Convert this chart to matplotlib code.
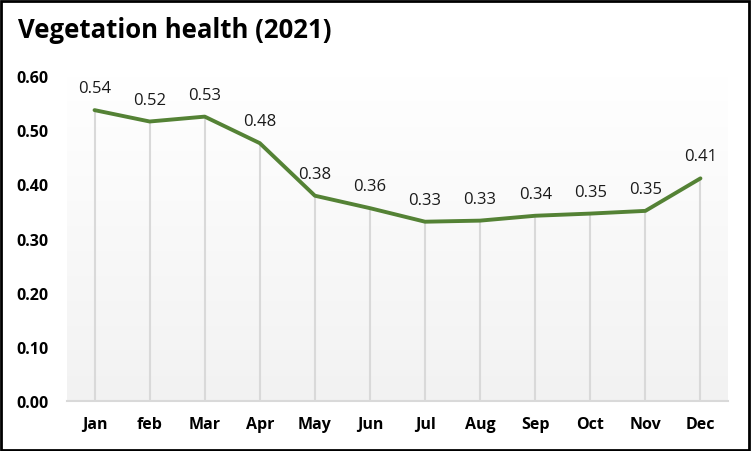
import matplotlib
matplotlib.use("Agg")
import matplotlib.pyplot as plt
import numpy as np
from matplotlib.colors import LinearSegmentedColormap

months = ["Jan", "feb", "Mar", "Apr", "May", "Jun", "Jul", "Aug", "Sep", "Oct", "Nov", "Dec"]
values = [0.537, 0.516, 0.525, 0.476, 0.379, 0.356, 0.331, 0.333, 0.342, 0.346, 0.351, 0.411]
yticks = [0.0, 0.1, 0.2, 0.3, 0.4, 0.5, 0.6]
title = "Vegetation health (2021)"

plt.rcParams['font.family'] = ['Open Sans', 'DejaVu Sans']

W, H = 751, 452
fig = plt.figure(figsize=(W / 100, H / 100), dpi=100)
fig.patch.set_facecolor("white")

# border
fig.add_artist(plt.Rectangle((1 / W, 1 / H), 1 - 3 / W, 1 - 3 / H, transform=fig.transFigure,
                             fill=False, edgecolor="black", linewidth=2))

ax = fig.add_axes([67 / W, (H - 402) / H, 661 / W, (402 - 77) / H])
x = np.arange(len(months))

# gradient background
grad = np.linspace(1.0, 0.0, 256).reshape(-1, 1)
cmap = LinearSegmentedColormap.from_list("g", ["#f2f2f2", "#ffffff"])
ax.imshow(grad, extent=[0, 1, 0, 1], transform=ax.transAxes, cmap=cmap, aspect="auto",
          zorder=0, origin="upper", vmin=0, vmax=1)

ax.vlines(x, 0, values, color="#d9d9d9", linewidth=1.5, zorder=1)
ax.plot(x, values, color="#548235", linewidth=2.8, zorder=3, solid_capstyle="round",
        solid_joinstyle="round")

for xi, v in zip(x, values):
    ax.annotate(f"{v:.2f}", (xi, v), xytext=(0, 10), textcoords="offset points",
                ha="center", va="bottom", fontsize=12, color="#1a1a1a")

ax.set_xlim(-0.5, len(months) - 0.5)
ax.set_ylim(0, 0.6)
ax.set_xticks(x)
ax.set_xticklabels(months, fontsize=11.5, fontweight="bold")
ax.set_yticks(yticks)
ax.set_yticklabels([f"{t:.2f}" for t in yticks], fontsize=11.5, fontweight="bold")
ax.tick_params(axis="both", length=0)
ax.tick_params(axis="y", pad=13)
ax.tick_params(axis="x", pad=11)
for s in ["top", "right", "left"]:
    ax.spines[s].set_visible(False)
ax.spines["bottom"].set_color("#d9d9d9")
ax.spines["bottom"].set_linewidth(1.5)
ax.spines["bottom"].set_zorder(2)

fig.text(18 / W, 1 - 31 / H, title, fontsize=18.5, fontweight="bold", ha="left", va="center")

fig.savefig("out.png", dpi=100)
